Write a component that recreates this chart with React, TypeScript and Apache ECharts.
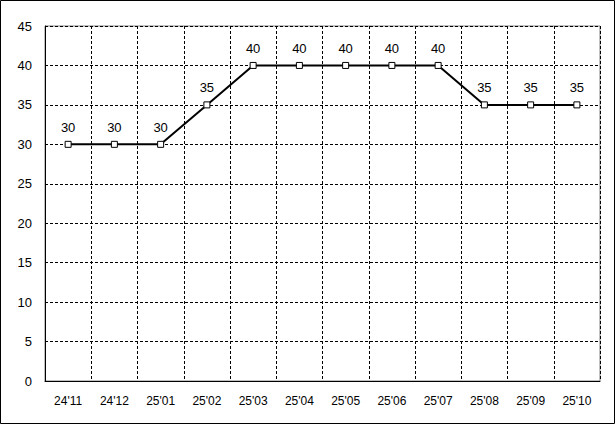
import React, { useEffect, useRef } from "react";
import * as echarts from "echarts";

const categories = ["24'11", "24'12", "25'01", "25'02", "25'03", "25'04", "25'05", "25'06", "25'07", "25'08", "25'09", "25'10"];
const values = [30, 30, 30, 35, 40, 40, 40, 40, 40, 35, 35, 35];
const yMin = 0;
const yMax = 45;
const yStep = 5;

const FONT = "'Liberation Sans', Arial, sans-serif";

export default function App() {
  const ref = useRef<HTMLDivElement>(null);
  useEffect(() => {
    document.body.style.margin = "0";
    const chart = echarts.init(ref.current!, null, { renderer: "svg" });
    chart.setOption({
      animation: false,
      backgroundColor: "#ffffff",
      graphic: [
        {
          type: "rect",
          shape: { x: 0.5, y: 0.5, width: 614, height: 423 },
          style: { fill: "none", stroke: "#000", lineWidth: 1 },
          z: 100,
        },
      ],
      grid: {
        left: 45,
        right: 15,
        top: 26,
        bottom: 43,
        show: true,
        borderColor: "#808080",
        borderWidth: 1,
        backgroundColor: "transparent",
      },
      xAxis: {
        type: "category",
        data: categories,
        boundaryGap: true,
        axisLine: { show: true, lineStyle: { color: "#000", width: 1 } },
        axisTick: { show: false },
        axisLabel: { color: "#000", fontSize: 12, fontFamily: FONT, margin: 14, interval: 0 },
        splitLine: { show: true, interval: 0, lineStyle: { color: "#000", type: [3, 2], width: 1 } },
      },
      yAxis: {
        type: "value",
        min: yMin,
        max: yMax,
        interval: yStep,
        axisLine: { show: true, lineStyle: { color: "#000", width: 1 } },
        axisTick: { show: false },
        axisLabel: { color: "#000", fontSize: 13, fontFamily: FONT, margin: 13 },
        splitLine: { show: true, lineStyle: { color: "#000", type: [3, 2], width: 1 } },
      },
      series: [
        {
          type: "line",
          data: values,
          symbol: "rect",
          symbolSize: 6,
          showAllSymbol: true,
          itemStyle: { color: "#fff", borderColor: "#000", borderWidth: 1 },
          lineStyle: { color: "#000", width: 2 },
          label: {
            show: true,
            position: "top",
            distance: 7,
            color: "#000",
            fontSize: 13,
            fontFamily: FONT,
          },
          z: 5,
        },
      ],
    });
    return () => chart.dispose();
  }, []);
  return <div ref={ref} style={{ width: 615, height: 424, position: "absolute", left: 0, top: 0 }} />;
}
